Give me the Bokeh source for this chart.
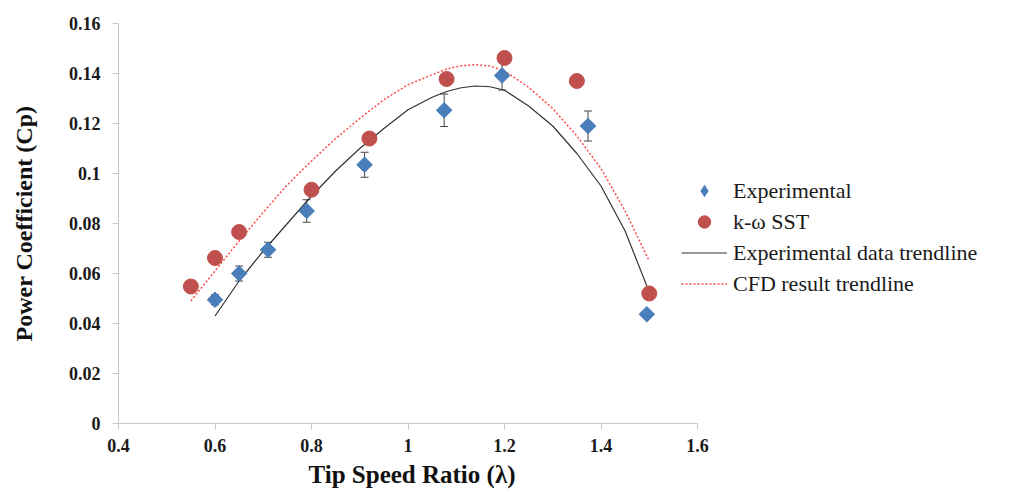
from bokeh.plotting import figure
from bokeh.models import (ColumnDataSource, Range1d, FixedTicker, NumeralTickFormatter,
                          Whisker, TeeHead, Legend, LegendItem, Title)
from bokeh.embed import file_html
from bokeh.resources import INLINE

# ---- data ----
exp_tsr = [0.60, 0.65, 0.71, 0.79, 0.91, 1.075, 1.195, 1.373, 1.495]
exp_cp = [0.0495, 0.0600, 0.0695, 0.0850, 0.1035, 0.1253, 0.1392, 0.1190, 0.0437]
exp_err = [0.0020, 0.0030, 0.0030, 0.0045, 0.0050, 0.0065, 0.0058, 0.0060, 0.0010]

cfd_tsr = [0.55, 0.60, 0.65, 0.80, 0.92, 1.08, 1.20, 1.35, 1.50]
cfd_cp = [0.0548, 0.0662, 0.0766, 0.0935, 0.1140, 0.1378, 0.1462, 0.1370, 0.0520]

exp_trend_x = [0.60, 0.65, 0.70, 0.75, 0.80, 0.85, 0.90, 0.95, 1.00, 1.05, 1.08, 1.11,
               1.14, 1.17, 1.20, 1.25, 1.30, 1.35, 1.40, 1.45, 1.495]
exp_trend_y = [0.043, 0.057, 0.069, 0.080, 0.091, 0.101, 0.110, 0.118, 0.1255, 0.1305, 0.1328, 0.1343,
               0.1350, 0.1347, 0.1333, 0.127, 0.119, 0.108, 0.095, 0.077, 0.055]

cfd_trend_x = [0.55, 0.60, 0.65, 0.70, 0.75, 0.80, 0.85, 0.90, 0.95, 1.00, 1.05, 1.08, 1.11,
               1.14, 1.17, 1.20, 1.25, 1.30, 1.35, 1.40, 1.45, 1.50]
cfd_trend_y = [0.049, 0.061, 0.073, 0.0845, 0.0955, 0.105, 0.114, 0.122, 0.1295, 0.1355, 0.1395, 0.1418, 0.1431,
               0.1435, 0.1430, 0.1410, 0.1345, 0.126, 0.115, 0.102, 0.085, 0.065]

x_ticks = [0.4, 0.6, 0.8, 1.0, 1.2, 1.4, 1.6]
y_ticks = [0.0, 0.02, 0.04, 0.06, 0.08, 0.10, 0.12, 0.14, 0.16]

SERIF = "Liberation Serif"
BLUE, RED = "#4a7ebb", "#c0504d"

# plot frame: x axis spans 118..697 px for 0.4..1.6; frame continues to the right edge
# so that the legend (drawn in the frame) is not clipped
FRAME_LEFT, AXIS_RIGHT, W = 118, 697, 1022
x_end = 0.4 + (W - FRAME_LEFT) * (1.6 - 0.4) / (AXIS_RIGHT - FRAME_LEFT)

p = figure(width=W, height=494, output_backend="svg", toolbar_location=None,
           x_range=Range1d(0.4, x_end), y_range=Range1d(0, 0.16),
           min_border_left=FRAME_LEFT, min_border_right=0, min_border_top=23, min_border_bottom=71)
p.outline_line_color = None
p.xgrid.visible = False
p.ygrid.visible = False
p.background_fill_color = "white"
p.border_fill_color = "white"

for ax, ticks, fmt in ((p.xaxis[0], x_ticks, "0.[0]"), (p.yaxis[0], y_ticks, "0.[00]")):
    ax.ticker = FixedTicker(ticks=ticks)
    ax.formatter = NumeralTickFormatter(format=fmt)
    ax.minor_tick_line_color = None
    ax.axis_line_color = "#c8c8c8"
    ax.major_tick_line_color = "#c8c8c8"
    ax.major_tick_out = 6
    ax.major_tick_in = 0
    ax.major_label_text_font = SERIF
    ax.major_label_text_font_style = "bold"
    ax.major_label_text_font_size = "18px"
    ax.major_label_text_color = "#1a1a1a"
    ax.axis_label_text_font = SERIF
    ax.axis_label_text_font_style = "bold"
    ax.axis_label_text_color = "#111111"

p.xaxis.bounds = (0.4, 1.6)
p.yaxis.axis_label = "Power Coefficient (Cp)"
p.yaxis.axis_label_text_font_size = "24px"
p.xaxis.major_label_standoff = 9
p.yaxis.major_label_standoff = 12
p.yaxis.axis_label_standoff = 29

# x-axis title, placed under the drawn axis (0.4..1.6) rather than the whole frame
xtitle = Title(text="Tip Speed Ratio (λ)", align="left", offset=190,
               text_font=SERIF, text_font_style="bold", text_font_size="25px",
               text_color="#111111", standoff=8)
p.add_layout(xtitle, "below")

exp_src = ColumnDataSource(dict(x=exp_tsr, y=exp_cp,
                                lo=[c - e for c, e in zip(exp_cp, exp_err)],
                                hi=[c + e for c, e in zip(exp_cp, exp_err)]))
cfd_src = ColumnDataSource(dict(x=cfd_tsr, y=cfd_cp))

l_exp = p.line(exp_trend_x, exp_trend_y, line_color="#333333", line_width=1.2)
l_cfd = p.line(cfd_trend_x, cfd_trend_y, line_color="#ff4a4a", line_width=1.5, line_dash="2 2")

wh = Whisker(source=exp_src, base="x", upper="hi", lower="lo", line_color="#444444", line_width=1,
             upper_head=TeeHead(size=8, line_color="#444444", line_width=1),
             lower_head=TeeHead(size=8, line_color="#444444", line_width=1))
p.add_layout(wh)

# legend key for the diamonds: zero-size markers on the same points (hidden under the data
# markers); the legend sizes its key from the glyph box and draws it unrotated
r_exp_key = p.scatter("x", "y", source=exp_src, marker="diamond", size=0, line_width=0,
                      fill_color=BLUE, line_color=BLUE)
# data diamonds: squares turned by 45 degrees (Excel-style diamonds)
r_exp = p.scatter("x", "y", source=exp_src, marker="square", angle=0.7854, size=11,
                  fill_color=BLUE, line_color=BLUE)
r_cfd = p.scatter("x", "y", source=cfd_src, marker="circle", size=15,
                  fill_color=RED, line_color=RED)

legend = Legend(items=[
    LegendItem(label="Experimental", renderers=[r_exp_key]),
    LegendItem(label="k-ω SST", renderers=[r_cfd]),
    LegendItem(label="Experimental data trendline", renderers=[l_exp]),
    LegendItem(label="CFD result trendline", renderers=[l_cfd]),
], location=(563, 124))
legend.glyph_width = 46
legend.glyph_height = 31
legend.label_height = 20
legend.spacing = 0
legend.label_standoff = 6
legend.padding = 0
legend.margin = 0
legend.border_line_color = None
legend.background_fill_alpha = 0
legend.label_text_font = SERIF
legend.label_text_font_size = "22px"
legend.label_text_color = "#1a1a1a"
p.add_layout(legend)

open("out.html", "w").write(file_html(p, INLINE))
